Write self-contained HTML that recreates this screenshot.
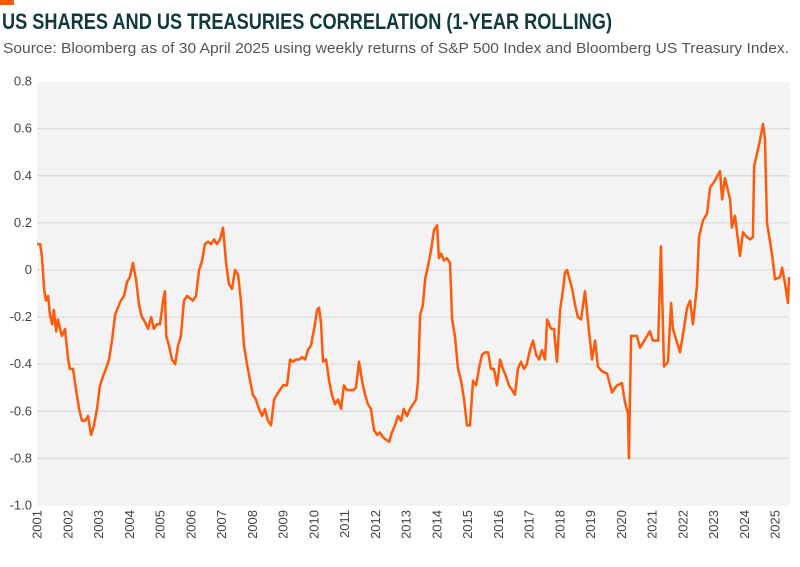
<!DOCTYPE html>
<html><head><meta charset="utf-8"><style>
html,body{margin:0;padding:0;background:#fff;}
svg{display:block;font-family:"Liberation Sans",sans-serif;}
</style></head><body>
<svg id="chart" width="800" height="567" viewBox="0 0 800 567">
<rect x="0" y="0" width="14" height="5" fill="#ff5a0a"/>
<text x="2" y="29" font-size="22" font-weight="bold" fill="#103a3c" textLength="610" lengthAdjust="spacingAndGlyphs">US SHARES AND US TREASURIES CORRELATION (1-YEAR ROLLING)</text>
<text x="3" y="53" font-size="15" fill="#555" textLength="786" lengthAdjust="spacingAndGlyphs">Source: Bloomberg as of 30 April 2025 using weekly returns of S&amp;P 500 Index and Bloomberg US Treasury Index.</text>
<rect x="37" y="82" width="753" height="424" fill="#f3f3f3"/>
<g id="grid"></g><g id="yaxis"></g><g id="xaxis"></g><g id="series"></g>
</svg>
<script>
const years=[2001.00,2001.10,2001.16,2001.23,2001.29,2001.36,2001.42,2001.49,2001.55,2001.62,2001.68,2001.75,2001.81,2001.91,2002.01,2002.07,2002.17,2002.27,2002.37,2002.46,2002.56,2002.66,2002.76,2002.85,2002.95,2003.05,2003.15,2003.24,2003.34,2003.44,2003.54,2003.63,2003.73,2003.83,2003.93,2004.02,2004.12,2004.22,2004.32,2004.41,2004.51,2004.61,2004.71,2004.80,2004.90,2005.00,2005.10,2005.16,2005.20,2005.29,2005.39,2005.49,2005.59,2005.68,2005.78,2005.88,2005.98,2006.07,2006.17,2006.27,2006.37,2006.46,2006.56,2006.66,2006.76,2006.85,2006.95,2007.05,2007.15,2007.24,2007.34,2007.44,2007.54,2007.63,2007.73,2007.83,2007.93,2008.02,2008.12,2008.22,2008.32,2008.41,2008.51,2008.61,2008.71,2008.80,2008.90,2009.00,2009.13,2009.23,2009.33,2009.42,2009.52,2009.62,2009.72,2009.81,2009.91,2010.01,2010.11,2010.17,2010.24,2010.30,2010.40,2010.50,2010.59,2010.69,2010.79,2010.89,2010.98,2011.08,2011.18,2011.28,2011.37,2011.47,2011.57,2011.67,2011.76,2011.86,2011.96,2012.06,2012.15,2012.25,2012.35,2012.45,2012.54,2012.64,2012.74,2012.84,2012.93,2013.03,2013.13,2013.23,2013.33,2013.39,2013.46,2013.55,2013.62,2013.72,2013.81,2013.91,2014.01,2014.07,2014.14,2014.24,2014.33,2014.43,2014.50,2014.59,2014.69,2014.79,2014.89,2014.98,2015.08,2015.18,2015.28,2015.37,2015.47,2015.57,2015.67,2015.76,2015.86,2015.96,2016.06,2016.15,2016.25,2016.35,2016.45,2016.54,2016.64,2016.74,2016.84,2016.93,2017.03,2017.13,2017.23,2017.33,2017.42,2017.52,2017.59,2017.72,2017.81,2017.91,2018.01,2018.11,2018.17,2018.24,2018.40,2018.50,2018.59,2018.69,2018.82,2018.92,2019.05,2019.15,2019.24,2019.37,2019.54,2019.70,2019.86,2020.02,2020.12,2020.22,2020.25,2020.32,2020.51,2020.61,2020.84,2020.93,2021.03,2021.20,2021.29,2021.39,2021.52,2021.62,2021.68,2021.91,2022.01,2022.14,2022.24,2022.33,2022.46,2022.53,2022.66,2022.79,2022.89,2023.05,2023.21,2023.28,2023.37,2023.54,2023.60,2023.70,2023.86,2023.96,2024.09,2024.19,2024.28,2024.32,2024.51,2024.61,2024.67,2024.74,2024.90,2025.00,2025.16,2025.23,2025.33,2025.42,2025.46];
const corr=[0.11,0.11,0.06,-0.08,-0.13,-0.11,-0.19,-0.23,-0.17,-0.26,-0.21,-0.25,-0.28,-0.25,-0.38,-0.42,-0.42,-0.51,-0.59,-0.64,-0.64,-0.62,-0.70,-0.66,-0.59,-0.49,-0.45,-0.42,-0.38,-0.30,-0.19,-0.16,-0.13,-0.11,-0.05,-0.03,0.03,-0.04,-0.15,-0.20,-0.22,-0.25,-0.20,-0.25,-0.23,-0.23,-0.13,-0.09,-0.28,-0.32,-0.38,-0.40,-0.32,-0.28,-0.13,-0.11,-0.12,-0.13,-0.11,0.00,0.04,0.11,0.12,0.11,0.13,0.11,0.13,0.18,0.03,-0.06,-0.08,0.00,-0.02,-0.13,-0.32,-0.40,-0.47,-0.53,-0.55,-0.59,-0.62,-0.59,-0.64,-0.66,-0.55,-0.53,-0.51,-0.49,-0.49,-0.38,-0.39,-0.38,-0.38,-0.37,-0.38,-0.34,-0.32,-0.25,-0.17,-0.16,-0.23,-0.39,-0.38,-0.47,-0.53,-0.57,-0.55,-0.59,-0.49,-0.51,-0.51,-0.51,-0.50,-0.39,-0.47,-0.53,-0.57,-0.59,-0.68,-0.70,-0.69,-0.71,-0.72,-0.73,-0.69,-0.66,-0.62,-0.64,-0.59,-0.62,-0.59,-0.57,-0.55,-0.47,-0.19,-0.15,-0.04,0.02,0.08,0.17,0.19,0.05,0.07,0.04,0.05,0.03,-0.21,-0.28,-0.42,-0.47,-0.55,-0.66,-0.66,-0.47,-0.49,-0.42,-0.36,-0.35,-0.35,-0.42,-0.42,-0.49,-0.38,-0.42,-0.45,-0.49,-0.51,-0.53,-0.42,-0.39,-0.42,-0.40,-0.34,-0.30,-0.36,-0.38,-0.34,-0.38,-0.21,-0.25,-0.25,-0.39,-0.17,-0.08,-0.01,0.00,-0.08,-0.15,-0.20,-0.21,-0.09,-0.22,-0.38,-0.30,-0.41,-0.43,-0.44,-0.52,-0.49,-0.48,-0.56,-0.61,-0.80,-0.28,-0.28,-0.33,-0.28,-0.26,-0.30,-0.30,0.10,-0.41,-0.39,-0.14,-0.25,-0.35,-0.27,-0.16,-0.13,-0.23,-0.07,0.14,0.21,0.24,0.35,0.38,0.42,0.30,0.39,0.30,0.18,0.23,0.06,0.16,0.14,0.13,0.14,0.44,0.55,0.62,0.56,0.20,0.07,-0.04,-0.03,0.01,-0.06,-0.14,-0.03];
const yTicks=[0.8,0.6,0.4,0.2,0,-0.2,-0.4,-0.6,-0.8,-1.0];
const yTickLabels=["0.8","0.6","0.4","0.2","0","-0.2","-0.4","-0.6","-0.8","-1.0"];
const xTicks=[2001,2002,2003,2004,2005,2006,2007,2008,2009,2010,2011,2012,2013,2014,2015,2016,2017,2018,2019,2020,2021,2022,2023,2024,2025];

const NS="http://www.w3.org/2000/svg";
function xS(v){return 37+(v-2001)*30.75;}
function yS(v){return 270-v*235.5;}
const grid=document.getElementById('grid'),ya=document.getElementById('yaxis'),xa=document.getElementById('xaxis'),ser=document.getElementById('series');
yTicks.forEach((t,i)=>{
  if(t<0.79&&t>-0.99){
    const l=document.createElementNS(NS,'line');
    
    
    l.setAttribute('x1',37);l.setAttribute('x2',790);l.setAttribute('y1',yS(t));l.setAttribute('y2',yS(t));
    l.setAttribute('stroke','#dcdcdc');l.setAttribute('stroke-width','1.3');grid.appendChild(l);
  }
  const tx=document.createElementNS(NS,'text');
  
  
  tx.setAttribute('x',32);tx.setAttribute('y',yS(t)+4);tx.setAttribute('text-anchor','end');
  tx.setAttribute('font-size','13');tx.setAttribute('fill','#444');tx.textContent=yTickLabels[i];ya.appendChild(tx);
});
xTicks.forEach(t=>{
  const tx=document.createElementNS(NS,'text');
  
  
  const x=xS(t)+4.5;
  tx.setAttribute('transform','translate('+x+',510) rotate(-90)');
  tx.setAttribute('text-anchor','end');tx.setAttribute('font-size','13');tx.setAttribute('fill','#444');
  tx.textContent=t;xa.appendChild(tx);
});
const p=document.createElementNS(NS,'path');


p.setAttribute('d',years.map((yr,i)=>(i?'L':'M')+xS(yr).toFixed(1)+' '+yS(corr[i]).toFixed(1)).join(' '));
p.setAttribute('fill','none');p.setAttribute('stroke','#ff5a0a');p.setAttribute('stroke-width','2.5');p.setAttribute('stroke-linejoin','round');
ser.appendChild(p);
</script>
</body></html>
